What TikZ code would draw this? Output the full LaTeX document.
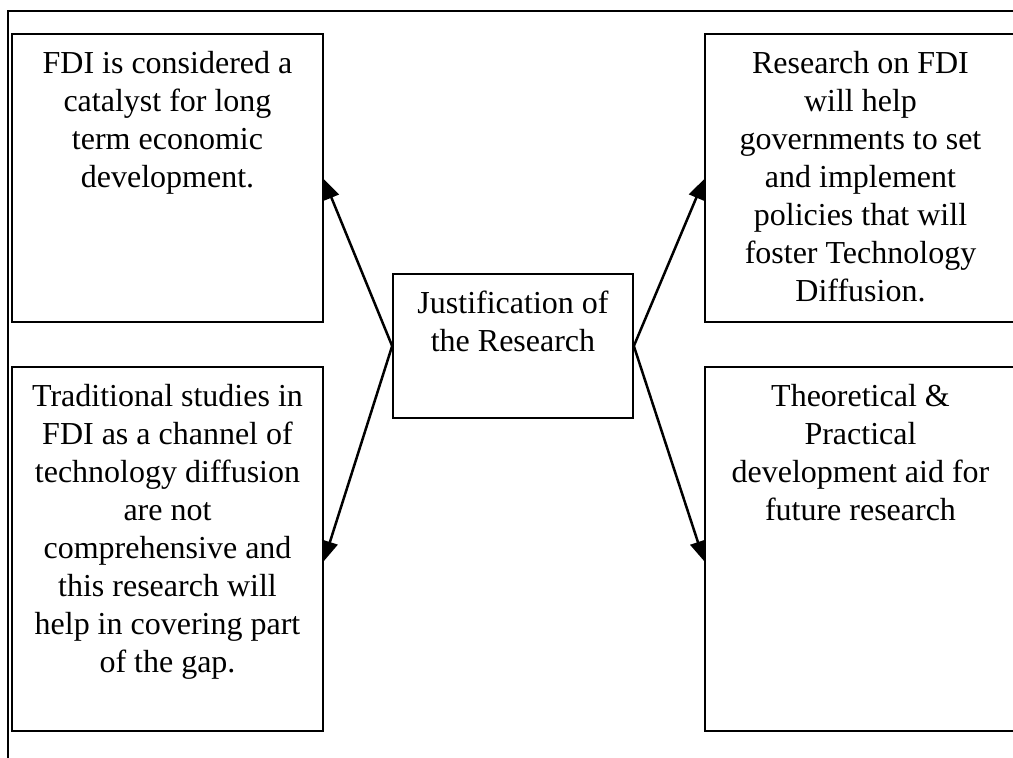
\documentclass[tikz,border=0pt]{standalone}
\usepackage{fontspec}
\setmainfont{Liberation Serif}
\usetikzlibrary{arrows.meta,calc}
\begin{document}
\begin{tikzpicture}[x=1pt,y=-1pt,
  box/.style={draw,line width=1.7pt,rectangle,inner sep=0pt},
  txt/.style={anchor=north,inner sep=0pt,align=center,
    font=\fontsize{32}{38}\selectfont},
  link/.style={line width=2.5pt,-{Triangle[length=20pt,width=16pt]}}]
\useasboundingbox (0,0) rectangle (1013,758);
\clip (0,0) rectangle (1013,758);
% outer frame
\coordinate (fa) at (8,780);
\coordinate (fb) at (8,11);
\coordinate (fc) at (1030,11);
\draw[line width=1.4pt] (fa) -- (fb) -- (fc);
% boxes
\node[box,minimum width=311pt,minimum height=288pt] (tl) at (167.5,178) {};
\node[box,minimum width=311pt,minimum height=364pt] (bl) at (167.5,549) {};
\node[box,minimum width=311pt,minimum height=288pt] (tr) at (860.5,178) {};
\node[box,minimum width=311pt,minimum height=364pt] (br) at (860.5,549) {};
\node[box,minimum width=240pt,minimum height=144pt] (c) at (513,346) {};
% texts
\node[txt] (tlt) at (167.5,51) {FDI is considered a\\catalyst for long\\term economic\\development.};
\node[txt] (blt) at (167.5,384) {Traditional studies in\\FDI as a channel of\\technology diffusion\\are not\\comprehensive and\\this research will\\help in covering part\\of the gap.};
\node[txt] (trt) at (860.5,51) {Research on FDI\\will help\\governments to set\\and implement\\policies that will\\foster Technology\\Diffusion.};
\node[txt] (brt) at (860.5,384) {Theoretical \&\\Practical\\development aid for\\future research};
\node[txt] (ct) at (513,291) {Justification of\\the Research};
% connectors
\draw[link] (c.west) -- ($(tl.north east)+(0,146)$);
\draw[link] (c.west) -- ($(bl.north east)+(0,195)$);
\draw[link] (c.east) -- ($(tr.north west)+(0,146)$);
\draw[link] (c.east) -- ($(br.north west)+(0,195)$);
\end{tikzpicture}
\end{document}
